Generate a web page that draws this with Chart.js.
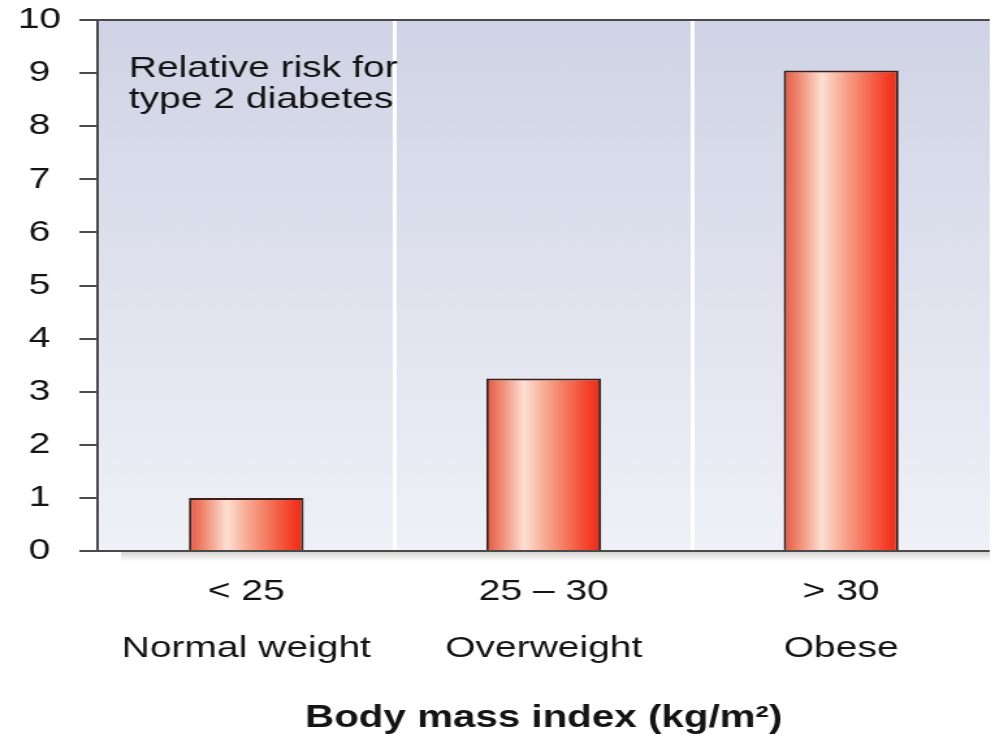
<!DOCTYPE html>
<html>
<head>
<meta charset="utf-8">
<script src="https://cdn.jsdelivr.net/npm/chart.js@4.4.1/dist/chart.umd.min.js"></script>
<style>
  html, body { margin: 0; padding: 0; background: #fff; overflow: hidden; }
  /* the original artwork is stretched horizontally, so the canvas is too */
  #chart { display: block; width: 995px !important; height: 734px !important; }
</style>
</head>
<body>
<canvas id="chart" width="765" height="734"></canvas>
<script>
const bmiRanges = ['< 25', '25 – 30', '> 30'];
const bmiClasses = ['Normal weight', 'Overweight', 'Obese'];
const relativeRisk = [1, 3.25, 9.05];
const riskMin = 0;
const riskMax = 10;
const riskStep = 1;
const noteLines = ['Relative risk for', 'type 2 diabetes'];
const axisTitle = 'Body mass index (kg/m²)';

const FONT = "'Liberation Sans', Arial, Helvetica, sans-serif";
const INK = '#141414';
const AXIS = '#4a4a4a';
const BAR_SHARE = 0.386;

// Horizontal red gradient with a pale highlight, one per bar
function barGradient(ctx) {
  const chart = ctx.chart;
  const xScale = chart.scales.x;
  if (!chart.chartArea || !xScale || ctx.dataIndex === undefined) return '#f05a40';
  const center = xScale.getPixelForValue(ctx.dataIndex);
  const half = (xScale.width / bmiRanges.length) * BAR_SHARE / 2;
  const g = chart.ctx.createLinearGradient(center - half, 0, center + half, 0);
  g.addColorStop(0, '#e25a46');
  g.addColorStop(0.12, '#f0846c');
  g.addColorStop(0.33, '#fde0d3');
  g.addColorStop(0.5, '#f8ad96');
  g.addColorStop(0.72, '#f46f55');
  g.addColorStop(0.92, '#f43822');
  g.addColorStop(1, '#dc301d');
  return g;
}

// Bluish panel behind the bars plus the soft shadow under the baseline
const panelBackground = {
  id: 'panelBackground',
  beforeDraw(chart) {
    const { ctx, chartArea: a } = chart;
    ctx.save();
    const g = ctx.createLinearGradient(0, a.top, 0, a.bottom);
    g.addColorStop(0, '#d0d3e5');
    g.addColorStop(1, '#eff1f7');
    ctx.fillStyle = g;
    ctx.fillRect(a.left, a.top, a.right - a.left, a.bottom - a.top);

    const s = ctx.createLinearGradient(0, a.bottom, 0, a.bottom + 10);
    s.addColorStop(0, 'rgba(90, 80, 70, 0.28)');
    s.addColorStop(1, 'rgba(90, 80, 70, 0)');
    ctx.fillStyle = s;
    ctx.fillRect(a.left + 18, a.bottom, a.right - a.left - 18, 10);
    ctx.restore();
  }
};

// "Relative risk for type 2 diabetes" in the top-left of the panel
const panelNote = {
  id: 'panelNote',
  afterDraw(chart) {
    const { ctx, chartArea: a } = chart;
    ctx.save();
    ctx.font = '30px ' + FONT;
    ctx.fillStyle = INK;
    ctx.textAlign = 'left';
    ctx.textBaseline = 'alphabetic';
    noteLines.forEach((line, i) => {
      ctx.fillText(line, a.left + 24, a.top + 57 + i * 31);
    });
    ctx.restore();
  }
};

new Chart(document.getElementById('chart'), {
  type: 'bar',
  data: {
    labels: bmiRanges.map((r, i) => [r, bmiClasses[i]]),
    datasets: [{
      data: relativeRisk,
      backgroundColor: barGradient,
      borderColor: '#3c1f1a',
      borderWidth: 2,
      borderSkipped: 'bottom',
      barPercentage: BAR_SHARE,
      categoryPercentage: 1
    }]
  },
  options: {
    responsive: false,
    animation: false,
    layout: { padding: { top: 8, right: 4, bottom: 0, left: 0 } },
    plugins: {
      legend: { display: false },
      tooltip: { enabled: false }
    },
    scales: {
      x: {
        grid: {
          offset: true,
          drawTicks: false,
          lineWidth: 3,
          color: ctx => (ctx.index === 1 || ctx.index === 2) ? '#ffffff' : 'rgba(0,0,0,0)'
        },
        border: { display: false },
        ticks: {
          color: INK,
          padding: 12,
          maxRotation: 0,
          autoSkip: false,
          font: { family: FONT, size: 30, lineHeight: 1.9 }
        },
        title: {
          display: true,
          text: axisTitle,
          color: INK,
          padding: { top: 14, bottom: 0 },
          font: { family: FONT, size: 31, weight: 'bold', lineHeight: 1.0 }
        }
      },
      y: {
        min: riskMin,
        max: riskMax,
        afterFit: scale => { scale.width = 75; },
        grid: {
          drawOnChartArea: true,
          tickLength: 14,
          lineWidth: 2,
          tickColor: AXIS,
          color: ctx => (ctx.tick && (ctx.tick.value === riskMin || ctx.tick.value === riskMax)) ? AXIS : 'rgba(0,0,0,0)'
        },
        border: { color: AXIS, width: 2 },
        ticks: {
          stepSize: riskStep,
          color: INK,
          padding: 14,
          crossAlign: 'center',
          // small line height keeps the "10" label from pushing the plot down
          font: { family: FONT, size: 30, lineHeight: 0.4 }
        }
      }
    }
  },
  plugins: [panelBackground, panelNote]
});
</script>
</body>
</html>
